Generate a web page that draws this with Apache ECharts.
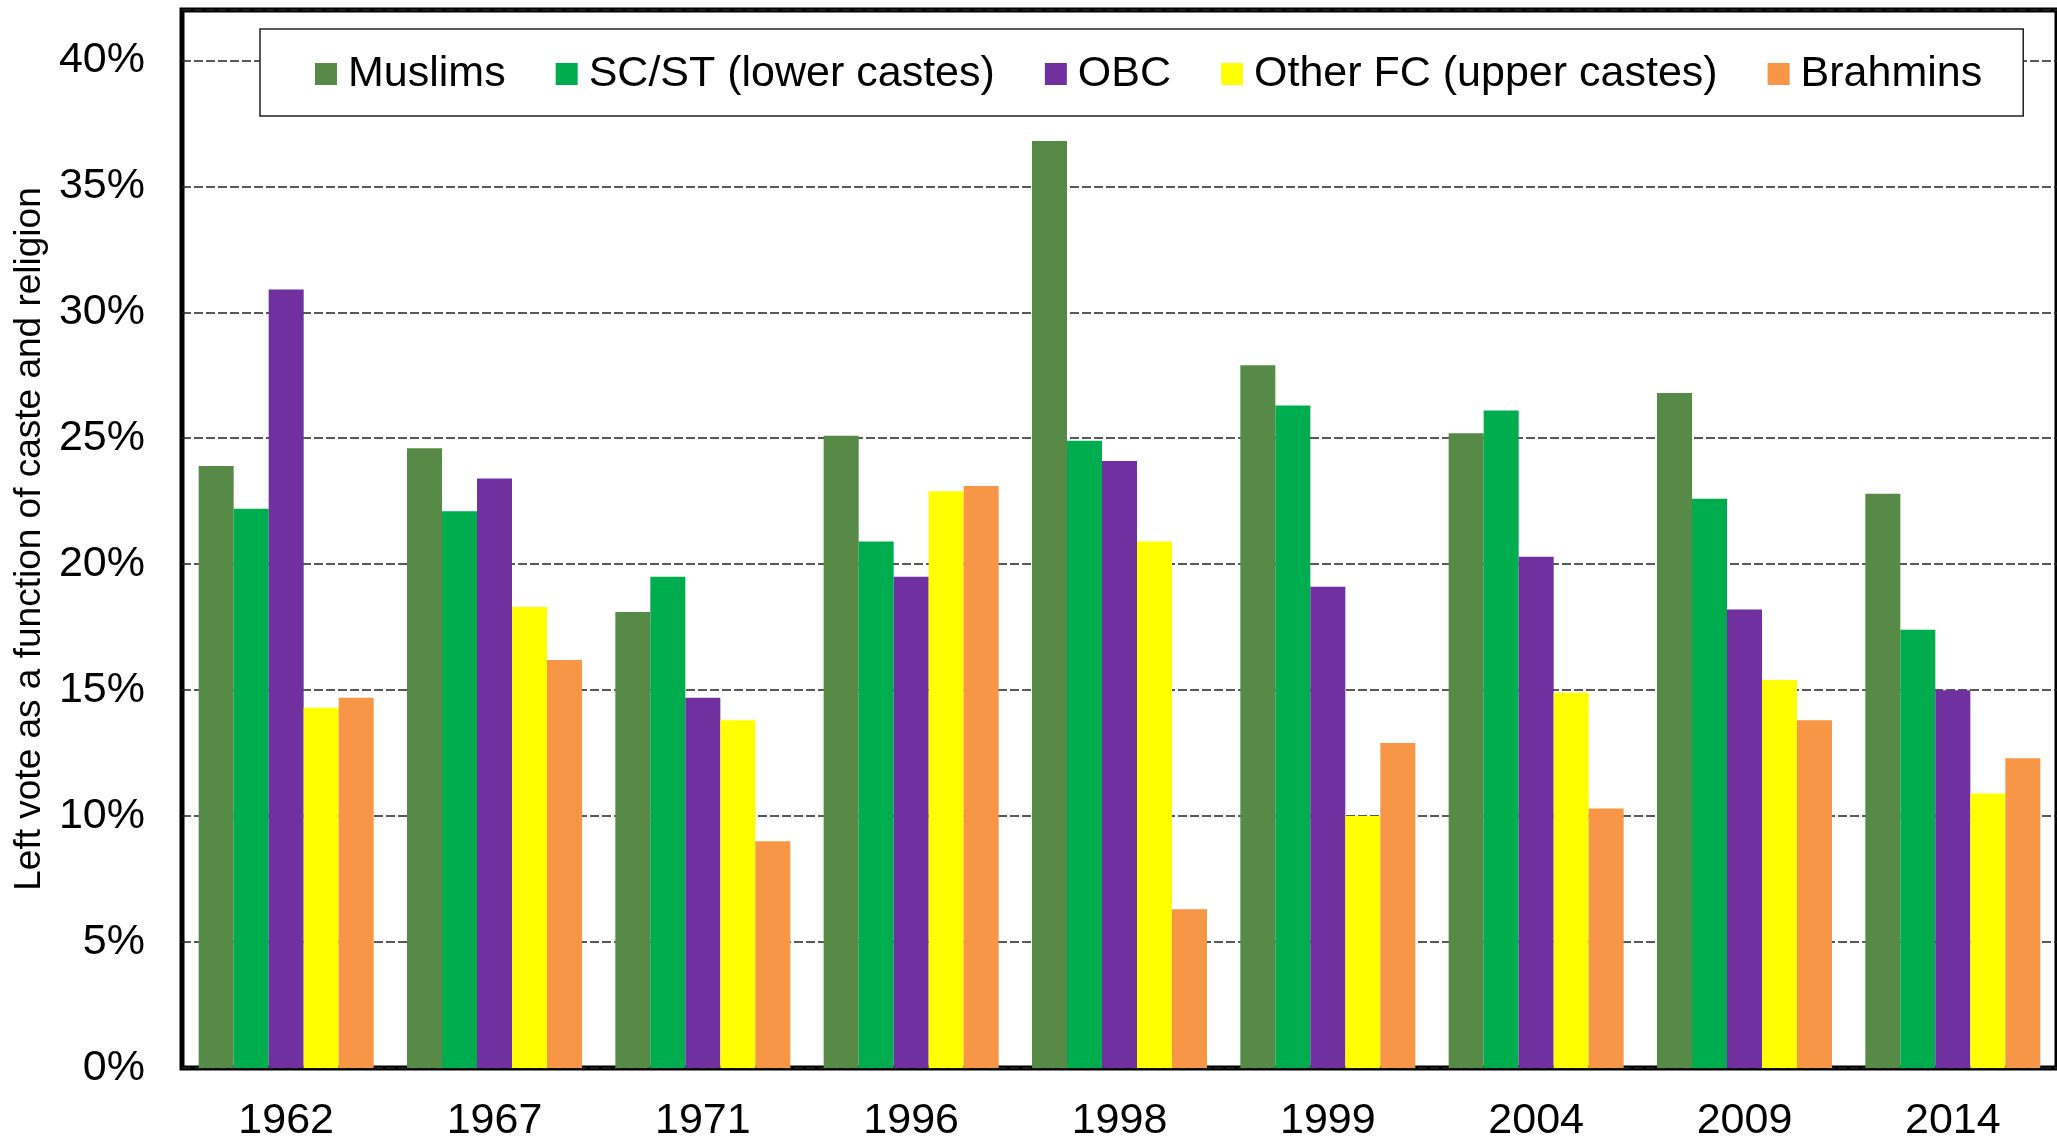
<!DOCTYPE html>
<html>
<head>
<meta charset="utf-8">
<title>Left vote by caste and religion</title>
<script src="https://cdn.jsdelivr.net/npm/echarts@6/dist/echarts.min.js"></script>
<style>
  html, body { margin: 0; padding: 0; background: #fff; }
  #main { width: 2057px; height: 1143px; }
</style>
</head>
<body>
<div id="main"></div>
<script>
// election years
const years = ['1962', '1967', '1971', '1996', '1998', '1999', '2004', '2009', '2014'];

// left vote share (%) per group
const muslims  = [23.9, 24.6, 18.1, 25.1, 36.8, 27.9, 25.2, 26.8, 22.8];
const scst     = [22.2, 22.1, 19.5, 20.9, 24.9, 26.3, 26.1, 22.6, 17.4];
const obc      = [30.9, 23.4, 14.7, 19.5, 24.1, 19.1, 20.3, 18.2, 15.0];
const otherFc  = [14.3, 18.3, 13.8, 22.9, 20.9, 10.0, 14.9, 15.4, 10.9];
const brahmins = [14.7, 16.2, 9.0, 23.1, 6.3, 12.9, 10.3, 13.8, 12.3];

const seriesNames = ['Muslims', 'SC/ST (lower castes)', 'OBC', 'Other FC (upper castes)', 'Brahmins'];
const seriesData = [muslims, scst, obc, otherFc, brahmins];
const colors = ['#578A47', '#00AD4E', '#7030A0', '#FFFF00', '#F79646'];

const font = "'Liberation Sans', Arial, sans-serif";

const chart = echarts.init(document.getElementById('main'));

const option = {
  animation: false,
  color: colors,
  textStyle: { fontFamily: font },
  grid: {
    left: 182,
    top: 10,
    width: 1886,
    height: 1062,
    show: true,
    borderColor: '#000',
    borderWidth: 5,
    backgroundColor: 'transparent'
  },
  legend: {
    left: 260,
    top: 29,
    padding: [22, 41, 19, 55],
    itemGap: 50,
    itemWidth: 22,
    itemHeight: 22,
    icon: 'rect',
    backgroundColor: '#fff',
    borderColor: '#222',
    borderWidth: 1.5,
    textStyle: {
      fontFamily: font,
      fontSize: 43,
      lineHeight: 46,
      color: '#000',
      padding: [0, 0, 0, 6]
    },
    data: seriesNames
  },
  xAxis: {
    type: 'category',
    data: years,
    axisLine: { show: false },
    axisTick: { show: false },
    axisLabel: {
      fontFamily: font,
      fontSize: 43,
      color: '#000',
      margin: 32
    }
  },
  yAxis: {
    type: 'value',
    min: 0,
    max: 42,
    interval: 5,
    name: 'Left vote as a function of caste and religion',
    nameLocation: 'middle',
    nameGap: 127,
    nameTextStyle: {
      fontFamily: font,
      fontSize: 37,
      color: '#000'
    },
    axisLine: { show: false },
    axisTick: { show: false },
    axisLabel: {
      fontFamily: font,
      fontSize: 43,
      color: '#000',
      margin: 37,
      formatter: function (v) {
        return v % 5 === 0 ? v + '%' : '';
      }
    },
    splitLine: {
      show: true,
      lineStyle: { color: '#222', width: 1.5, type: [9, 3] }
    }
  },
  series: seriesNames.map(function (name, i) {
    return {
      name: name,
      type: 'bar',
      data: seriesData[i],
      barGap: '0%',
      barCategoryGap: '16%',
      itemStyle: { color: colors[i] }
    };
  })
};

chart.setOption(option);
</script>
</body>
</html>
